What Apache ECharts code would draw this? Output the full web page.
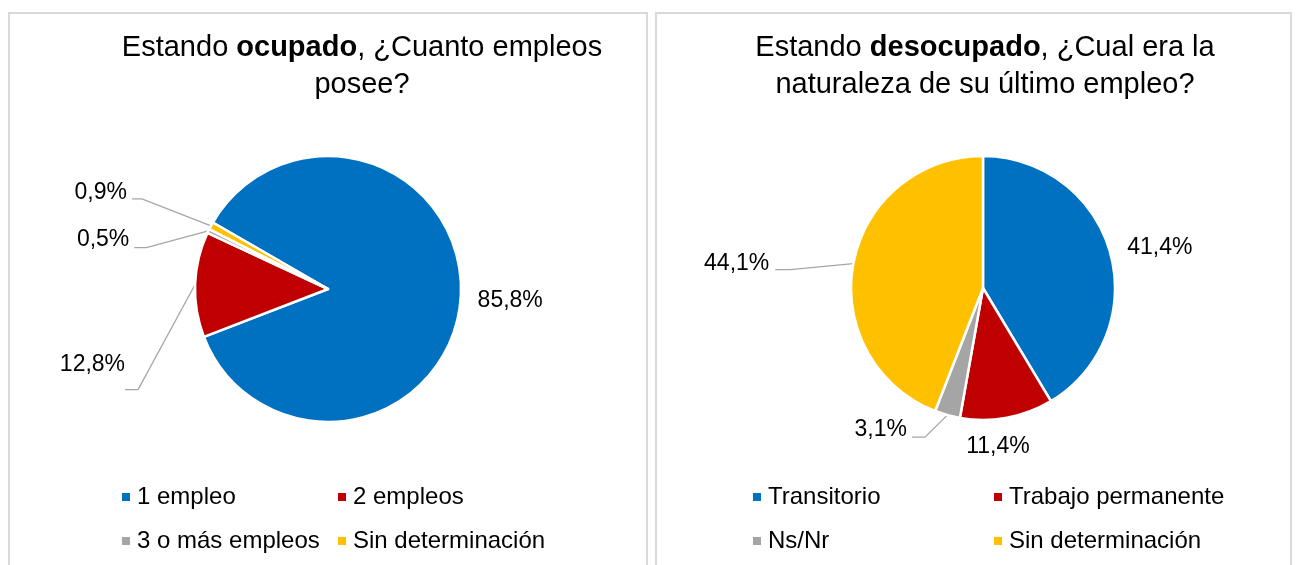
<!DOCTYPE html>
<html>
<head>
<meta charset="utf-8">
<script src="https://cdn.jsdelivr.net/npm/echarts@6/dist/echarts.min.js"></script>
<style>
html,body{margin:0;padding:0;background:#fff;}
#chart{width:1296px;height:565px;}
</style>
</head>
<body>
<div id="chart"></div>
<script>
// ---- data ----
const leftCategories = ['1 empleo', '2 empleos', '3 o más empleos', 'Sin determinación'];
const leftValues = [85.8, 12.8, 0.5, 0.9];
const rightCategories = ['Transitorio', 'Trabajo permanente', 'Ns/Nr', 'Sin determinación'];
const rightValues = [41.4, 11.4, 3.1, 44.1];
const sliceColors = ['#0070C0', '#C00000', '#A5A5A5', '#FFC000'];

const FONT = '"Liberation Sans", Arial, sans-serif';

function fmt(v) { return v.toFixed(1).replace('.', ',') + '%'; }

// label placement relative to the slice edge point (p0)
const leftLabelPlace = [
  { t: [17, 1], a: 'left', line: null },
  { t: [-70, 80.5], a: 'right', line: [[-57, 105], [-70, 105]] },
  { t: [-79, 8.6], a: 'right', line: [[-62, 16.6], [-74, 16.6]] },
  { t: [-84, -33.5], a: 'right', line: [[-69, -27], [-79, -27]] }
];
const rightLabelPlace = [
  { t: [17, -5], a: 'left', line: null },
  { t: [-9, 29], a: 'center', line: null },
  { t: [-40.4, 15], a: 'right', line: [[-22.4, 22], [-35.4, 22]] },
  { t: [-84, -0.5], a: 'right', line: [[-63, 6], [-78, 6]] }
];

function makeLayout(place) {
  return function (params) {
    const p = place[params.dataIndex];
    const pts = params.labelLinePoints;
    if (!pts || !pts[0]) return {};
    const p0 = pts[0];
    const res = {
      x: p0[0] + p.t[0],
      y: p0[1] + p.t[1],
      align: p.a,
      verticalAlign: 'middle'
    };
    if (p.line) {
      res.labelLinePoints = [
        [p0[0], p0[1]],
        [p0[0] + p.line[0][0], p0[1] + p.line[0][1]],
        [p0[0] + p.line[1][0], p0[1] + p.line[1][1]]
      ];
    } else {
      res.labelLinePoints = [[p0[0], p0[1]], [p0[0], p0[1]], [p0[0], p0[1]]];
    }
    return res;
  };
}

function pieSeries(cats, vals, center, radius, startAngle, place) {
  return {
    type: 'pie',
    center: center,
    radius: radius,
    startAngle: startAngle,
    clockwise: true,
    avoidLabelOverlap: false,
    animation: false,
    silent: true,
    itemStyle: { borderColor: '#fff', borderWidth: 2.5 },
    label: {
      show: true,
      position: 'outside',
      formatter: function (p) { return fmt(p.value); },
      fontFamily: FONT,
      fontSize: 23,
      color: '#000'
    },
    labelLine: {
      show: true,
      length: 10,
      length2: 10,
      smooth: false,
      lineStyle: { color: '#A6A6A6', width: 1.3 }
    },
    labelLayout: makeLayout(place),
    emphasis: { disabled: true },
    data: cats.map(function (c, i) {
      return { name: c, value: vals[i], itemStyle: { color: sliceColors[i] } };
    })
  };
}

function legend(names, left) {
  return {
    data: names,
    orient: 'vertical',
    left: left,
    top: 485,
    itemWidth: 8,
    itemHeight: 8,
    itemGap: 20,
    icon: 'rect',
    padding: 0,
    selectedMode: false,
    itemStyle: { borderWidth: 0 },
    textStyle: { fontFamily: FONT, fontSize: 24, color: '#000', lineHeight: 23, padding: [0, 0, 0, 2] }
  };
}

const titleRich = {
  n: { fontFamily: FONT, fontSize: 29, color: '#000', fontWeight: 'normal', lineHeight: 37 },
  b: { fontFamily: FONT, fontSize: 29, color: '#000', fontWeight: 'bold', lineHeight: 37 }
};

const chart = echarts.init(document.getElementById('chart'), null, { renderer: 'canvas' });
chart.setOption({
  backgroundColor: '#fff',
  animation: false,
  graphic: [
    { type: 'rect', shape: { x: 9, y: 13, width: 638, height: 600 }, style: { fill: 'none', stroke: '#D9D9D9', lineWidth: 2 }, silent: true },
    { type: 'rect', shape: { x: 656, y: 13, width: 635, height: 600 }, style: { fill: 'none', stroke: '#D9D9D9', lineWidth: 2 }, silent: true }
  ],
  title: [
    {
      text: '{n|Estando }{b|ocupado}{n|, ¿Cuanto empleos}\n{n|posee?}',
      left: 362, top: 29.5, textAlign: 'center', padding: 0,
      textStyle: { rich: titleRich, fontFamily: FONT, fontSize: 29, fontWeight: 'normal', lineHeight: 37 }
    },
    {
      text: '{n|Estando }{b|desocupado}{n|, ¿Cual era la}\n{n|naturaleza de su último empleo?}',
      left: 985, top: 29.5, textAlign: 'center', padding: 0,
      textStyle: { rich: titleRich, fontFamily: FONT, fontSize: 29, fontWeight: 'normal', lineHeight: 37 }
    }
  ],
  legend: [
    legend([leftCategories[0], leftCategories[2]], 122),
    legend([leftCategories[1], leftCategories[3]], 338),
    legend([rightCategories[0], rightCategories[2]], 753),
    legend([rightCategories[1], rightCategories[3]], 994)
  ],
  series: [
    pieSeries(leftCategories, leftValues, [328, 289], 133, 150, leftLabelPlace),
    pieSeries(rightCategories, rightValues, [983, 288], 132, 90, rightLabelPlace)
  ]
});
</script>
</body>
</html>
